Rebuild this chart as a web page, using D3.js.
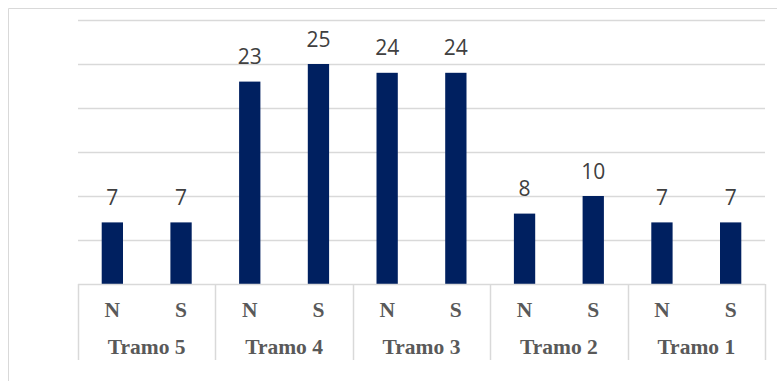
<!DOCTYPE html>
<html>
<head>
<meta charset="utf-8">
<script src="https://cdn.jsdelivr.net/npm/d3@7.9.0/dist/d3.min.js"></script>
<style>
  html, body { margin: 0; padding: 0; background: #fff; }
  svg { display: block; }
</style>
</head>
<body>
<div id="chart"></div>
<script>
// data
const tramos = ['Tramo 5', 'Tramo 4', 'Tramo 3', 'Tramo 2', 'Tramo 1'];
const sides = ['N', 'S'];
const valuesN = [7, 23, 24, 8, 7];
const valuesS = [7, 25, 24, 10, 7];
const yTicks = [0, 5, 10, 15, 20, 25, 30];

const width = 777, height = 381;
const margin = { top: 20, right: 12, bottom: 97, left: 78 };
const plotW = width - margin.left - margin.right;
const plotH = height - margin.top - margin.bottom;

const bars = [];
tramos.forEach((t, i) => {
  bars.push({ tramo: t, side: 'N', value: valuesN[i] });
  bars.push({ tramo: t, side: 'S', value: valuesS[i] });
});

const svg = d3.select('#chart')
  .append('svg')
  .attr('width', width)
  .attr('height', height);

// chart area border (only top and left visible in the crop)
svg.append('path')
  .attr('d', `M8.5,${height} V8.5 H${width}`)
  .attr('fill', 'none')
  .attr('stroke', '#d9d9d9')
  .attr('stroke-width', 1);

const g = svg.append('g').attr('transform', `translate(${margin.left},${margin.top})`);

const x0 = d3.scaleBand().domain(tramos).range([0, plotW]).padding(0);
const x1 = d3.scaleBand().domain(sides).range([0, x0.bandwidth()]).paddingInner(0.69).paddingOuter(0.345);
const y = d3.scaleLinear().domain([0, 30]).range([plotH, 0]);

// gridlines
g.append('g').selectAll('line')
  .data(yTicks.filter(d => d > 0))
  .join('line')
  .attr('x1', 0).attr('x2', plotW)
  .attr('y1', d => Math.round(y(d)) + 0.5)
  .attr('y2', d => Math.round(y(d)) + 0.5)
  .attr('stroke', '#d9d9d9')
  .attr('stroke-width', 1.5);

// bars
g.append('g').selectAll('rect')
  .data(bars)
  .join('rect')
  .attr('x', d => x0(d.tramo) + x1(d.side))
  .attr('y', d => y(d.value))
  .attr('width', x1.bandwidth())
  .attr('height', d => y(0) - y(d.value))
  .attr('fill', '#002060');

// data labels
g.append('g').selectAll('text')
  .data(bars)
  .join('text')
  .attr('x', d => x0(d.tramo) + x1(d.side) + x1.bandwidth() / 2)
  .attr('y', d => y(d.value) - 17.5)
  .attr('text-anchor', 'middle')
  .attr('font-family', '"Open Sans", sans-serif')
  .attr('font-size', 21)
  .attr('fill', '#404040')
  .text(d => d3.format('.0f')(d.value));

// category axis: baseline and separators
const axisG = g.append('g').attr('transform', `translate(0,${plotH})`);
axisG.append('line')
  .attr('x1', 0).attr('x2', plotW)
  .attr('y1', 0.5).attr('y2', 0.5)
  .attr('stroke', '#d9d9d9')
  .attr('stroke-width', 1.5);

const edges = tramos.map(t => x0(t)).concat([plotW]);
axisG.selectAll('line.sep')
  .data(edges)
  .join('line')
  .attr('class', 'sep')
  .attr('x1', d => Math.round(d) + 0.5)
  .attr('x2', d => Math.round(d) + 0.5)
  .attr('y1', 0)
  .attr('y2', 76)
  .attr('stroke', '#d9d9d9')
  .attr('stroke-width', 1.5);

const labelFont = '"Liberation Serif", "Times New Roman", serif';

// inner level: N / S
axisG.selectAll('text.side')
  .data(bars)
  .join('text')
  .attr('class', 'side')
  .attr('x', d => x0(d.tramo) + x1(d.side) + x1.bandwidth() / 2)
  .attr('y', 33)
  .attr('text-anchor', 'middle')
  .attr('font-family', labelFont)
  .attr('font-weight', 'bold')
  .attr('font-size', 21.5)
  .attr('fill', '#595959')
  .text(d => d.side);

// outer level: Tramo
axisG.selectAll('text.tramo')
  .data(tramos)
  .join('text')
  .attr('class', 'tramo')
  .attr('x', d => x0(d) + x0.bandwidth() / 2)
  .attr('y', 69.5)
  .attr('text-anchor', 'middle')
  .attr('font-family', labelFont)
  .attr('font-weight', 'bold')
  .attr('font-size', 21.5)
  .attr('fill', '#595959')
  .text(d => d);
</script>
</body>
</html>
